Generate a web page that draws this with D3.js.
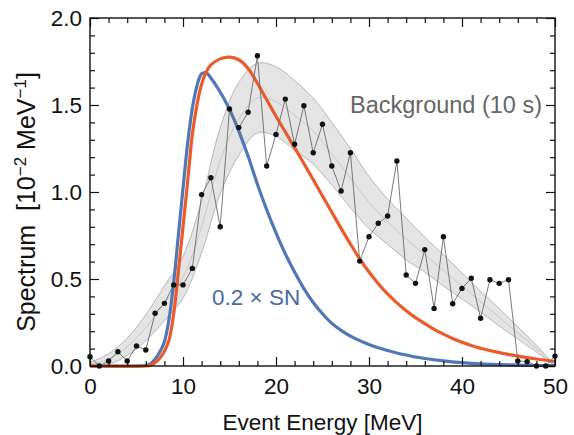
<!DOCTYPE html>
<html><head><meta charset="utf-8">
<script src="https://cdn.jsdelivr.net/npm/d3@7"></script>
<style>
body{margin:0;background:#fff}
text{font-family:"Liberation Sans",Arial,Helvetica,sans-serif}
</style>
</head><body>
<svg id="chart" width="574" height="435"></svg>
<script>
// ---------- data ----------
const pointE = [0,1,2,3,4,5,6,7,8,9,10,11,12,13,14,15,16,17,18,19,20,21,22,23,24,25,26,27,28,29,30,31,32,33,34,35,36,37,38,39,40,41,42,43,44,45,46,47,48,49,50];
const pointY = [0.053,0.0,0.029,0.082,0.029,0.115,0.092,0.303,0.36,0.466,0.466,0.561,0.985,1.082,0.80,1.477,1.37,1.458,1.783,1.149,1.331,1.534,1.274,1.496,1.226,1.389,1.149,1.006,1.226,0.603,0.743,0.82,0.862,1.178,0.523,0.475,0.669,0.331,0.743,0.358,0.446,0.504,0.274,0.496,0.475,0.496,0.029,0.025,0.0,0.0,0.057];

const bandE    = [0,2,4,6,8,10,12,14,16,18,20,22,24,26,28,30,32,34,36,38,40,42,44,46,48,50];
const bandMid  = [0.01,0.04,0.11,0.22,0.36,0.51,0.80,1.18,1.42,1.54,1.52,1.44,1.35,1.22,1.08,0.94,0.83,0.73,0.64,0.55,0.46,0.37,0.28,0.19,0.10,0.0];
const bandHigh = [0.02,0.07,0.16,0.295,0.46,0.63,0.95,1.37,1.63,1.74,1.72,1.64,1.54,1.40,1.25,1.09,0.96,0.85,0.74,0.64,0.535,0.43,0.33,0.225,0.12,0.0];
const bandLow  = [0.0,0.01,0.06,0.145,0.26,0.39,0.65,0.99,1.21,1.34,1.32,1.24,1.16,1.04,0.91,0.79,0.70,0.61,0.54,0.46,0.385,0.31,0.23,0.155,0.08,0.0];

const snE = [0,5,6,6.5,7,7.5,8,8.5,9,9.5,10,10.5,11,11.5,12,12.5,13,14,15,16,17,18,19,20,21,22,23,24,25,26,27,28,29,30,31,32,33,34,35,36,38,40,42,44,46,48,50];
const snY = [0,0,0.003,0.012,0.04,0.08,0.14,0.27,0.48,0.75,1.02,1.28,1.48,1.61,1.68,1.685,1.655,1.575,1.475,1.35,1.205,1.045,0.898,0.765,0.645,0.54,0.445,0.365,0.3,0.245,0.205,0.172,0.146,0.124,0.105,0.089,0.075,0.063,0.052,0.043,0.029,0.019,0.012,0.008,0.005,0.003,0.002];

const redE = [0,6,6.5,7,7.5,8,8.5,9,9.5,10,10.5,11,11.5,12,12.5,13,14,15,16,17,18,19,20,21,22,23,24,25,26,27,28,29,30,31,32,33,34,35,36,37,38,39,40,41,42,44,46,48,50];
const redY = [0,0,0.004,0.02,0.045,0.085,0.15,0.3,0.54,0.8,1.06,1.33,1.5,1.62,1.69,1.73,1.765,1.775,1.76,1.71,1.625,1.53,1.435,1.345,1.255,1.164,1.071,0.977,0.884,0.791,0.701,0.616,0.54,0.473,0.414,0.363,0.318,0.278,0.243,0.211,0.183,0.158,0.136,0.118,0.102,0.077,0.057,0.04,0.026];

const xMajor = [0,10,20,30,40,50];
const xMinor = [2,4,6,8,12,14,16,18,22,24,26,28,32,34,36,38,42,44,46,48];
const yMajor = [0.0,0.5,1.0,1.5,2.0];
const yMinor = [0.1,0.2,0.3,0.4,0.6,0.7,0.8,0.9,1.1,1.2,1.3,1.4,1.6,1.7,1.8,1.9];

const labelSN = "0.2 × SN";
const labelBG = "Background (10 s)";
const xTitle = "Event Energy [MeV]";

// ---------- layout ----------
const svg = d3.select("#chart");
const L = 90, R = 555, T = 18, B = 366;
const x = d3.scaleLinear().domain([0,50]).range([L,R]);
const y = d3.scaleLinear().domain([0,2]).range([B,T]);

const FS = 22.5;
const smooth = d3.curveCatmullRom.alpha(0.5);

// band
const bandData = bandE.map((e,i)=>({e, lo:bandLow[i], hi:bandHigh[i], mid:bandMid[i]}));
svg.append("path").datum(bandData)
  .attr("d", d3.area().x(d=>x(d.e)).y0(d=>y(d.lo)).y1(d=>y(d.hi)).curve(smooth))
  .attr("fill","#e4e4e4").attr("stroke","none");
["lo","hi"].forEach(k=>{
  svg.append("path").datum(bandData)
    .attr("d", d3.line().x(d=>x(d.e)).y(d=>y(d[k])).curve(smooth))
    .attr("fill","none").attr("stroke","#b0b0b0").attr("stroke-width",0.9);
});
svg.append("path").datum(bandData)
  .attr("d", d3.line().x(d=>x(d.e)).y(d=>y(d.mid)).curve(smooth))
  .attr("fill","none").attr("stroke","#c4c4c4").attr("stroke-width",0.9);

// curves
const curveLine = d3.line().x(d=>x(d[0])).y(d=>y(Math.max(0,d[1]))).curve(smooth);
svg.append("path").datum(snE.map((e,i)=>[e,snY[i]]))
  .attr("d", curveLine).attr("fill","none").attr("stroke","#5177b6").attr("stroke-width",3.2);
svg.append("path").datum(redE.map((e,i)=>[e,redY[i]]))
  .attr("d", curveLine).attr("fill","none").attr("stroke","#ea5a2b").attr("stroke-width",3.2);

// data
const pts = pointE.map((e,i)=>[e,pointY[i]]);
svg.append("path").datum(pts)
  .attr("d", d3.line().x(d=>x(d[0])).y(d=>y(d[1])))
  .attr("fill","none").attr("stroke","#6a6a6a").attr("stroke-width",0.9);
svg.append("g").selectAll("circle").data(pts).join("circle")
  .attr("cx",d=>x(d[0])).attr("cy",d=>y(d[1])).attr("r",2.7)
  .attr("fill","#111");

// axes
function styleAxis(g){
  g.select(".domain").remove();
  g.selectAll("line").attr("stroke","#111").attr("stroke-width",1.2);
  g.selectAll("text").attr("font-size",FS).attr("fill","#111").style("font-family",'"Liberation Sans",Arial,sans-serif');
}
svg.append("g").attr("transform",`translate(0,${B})`)
  .call(d3.axisBottom(x).tickValues(xMajor).tickSize(-9).tickPadding(12).tickFormat(d3.format("d"))).call(styleAxis);
svg.append("g").attr("transform",`translate(0,${B})`)
  .call(d3.axisBottom(x).tickValues(xMinor).tickSize(-5).tickFormat("")).call(styleAxis);
svg.append("g").attr("transform",`translate(0,${T})`)
  .call(d3.axisTop(x).tickValues(xMajor).tickSize(-9).tickFormat("")).call(styleAxis);
svg.append("g").attr("transform",`translate(0,${T})`)
  .call(d3.axisTop(x).tickValues(xMinor).tickSize(-5).tickFormat("")).call(styleAxis);
svg.append("g").attr("transform",`translate(${L},0)`)
  .call(d3.axisLeft(y).tickValues(yMajor).tickSize(-9).tickPadding(8).tickFormat(d3.format(".1f"))).call(styleAxis);
svg.append("g").attr("transform",`translate(${L},0)`)
  .call(d3.axisLeft(y).tickValues(yMinor).tickSize(-5).tickFormat("")).call(styleAxis);
svg.append("g").attr("transform",`translate(${R},0)`)
  .call(d3.axisRight(y).tickValues(yMajor).tickSize(-9).tickFormat("")).call(styleAxis);
svg.append("g").attr("transform",`translate(${R},0)`)
  .call(d3.axisRight(y).tickValues(yMinor).tickSize(-5).tickFormat("")).call(styleAxis);

svg.append("rect").attr("x",L).attr("y",T).attr("width",R-L).attr("height",B-T)
  .attr("fill","none").attr("stroke","#111").attr("stroke-width",1.4);

// titles
svg.append("text").attr("x",(L+R)/2).attr("y",430).attr("text-anchor","middle")
  .attr("font-size",FS).attr("fill","#111").text(xTitle);

const yt = svg.append("text").attr("transform","translate(35,202) rotate(-90)")
  .attr("text-anchor","middle").attr("font-size",25).attr("fill","#111");
yt.append("tspan").text("Spectrum\u00a0\u00a0[10");
yt.append("tspan").attr("dy",-9).attr("font-size",17).text("\u22122");
yt.append("tspan").attr("dy",9).text("\u00a0MeV");
yt.append("tspan").attr("dy",-9).attr("font-size",17).text("\u22121");
yt.append("tspan").attr("dy",9).text("]");

// labels
svg.append("text").attr("x",212).attr("y",305).attr("font-size",FS).attr("fill","#4a6aa3").text(labelSN);
svg.append("text").attr("x",350).attr("y",113).attr("font-size",23.5).attr("fill","#666").text(labelBG);
</script>
</body></html>
